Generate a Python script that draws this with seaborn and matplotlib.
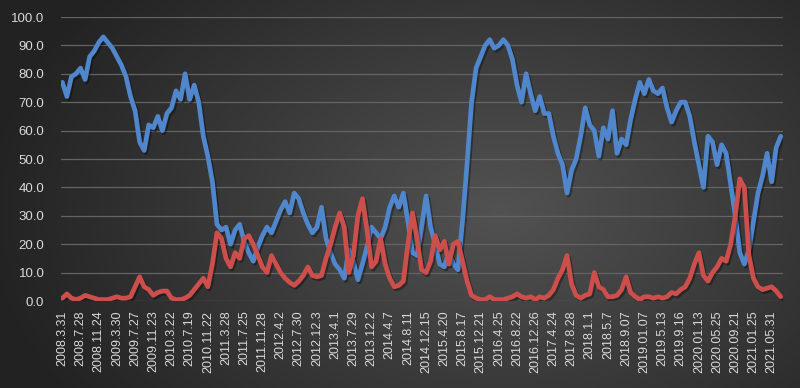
import numpy as np
import pandas as pd
import matplotlib
matplotlib.use("Agg")
import matplotlib.pyplot as plt
import matplotlib.patheffects as pe
import seaborn as sns

# ---------------- data ----------------
tick_labels = ["2008.3.31", "2008.7.28", "2008.11.24", "2009.3.30", "2009.7.27",
               "2009.11.23", "2010.3.22", "2010.7.19", "2010.11.22", "2011.3.28",
               "2011.7.25", "2011.11.28", "2012.4.2", "2012.7.30", "2012.12.3",
               "2013.4.1", "2013.7.29", "2013.12.2", "2014.4.7", "2014.8.11",
               "2014.12.15", "2015.4.20", "2015.8.17", "2015.12.21", "2016.4.25",
               "2016.8.22", "2016.12.26", "2017.4.24", "2017.8.28", "2018.1.1",
               "2018.5.7", "2018.9.07", "2019.01.07", "2019.5.13", "2019.9.16",
               "2020.01.13", "2020.05.25", "2020.09.21", "2021.01.25", "2021.05.31"]

blue_values = [77, 72, 79, 80, 82, 78, 86, 88, 91, 93,
               91, 89, 86, 83, 79, 72, 67, 56, 53, 62,
               61, 65, 60, 66, 68, 74, 71, 80, 71, 76,
               70, 58, 51, 42, 27, 25, 26, 20, 25, 27,
               21, 17, 14, 19, 23, 26, 24, 28, 32, 35,
               31, 38, 36, 31, 27, 24, 26, 33, 22, 17,
               13, 11, 8, 18, 14, 7.5, 13, 19, 26, 24,
               22, 26, 33, 37, 33, 38, 28, 17, 16, 26,
               37, 26, 20, 13, 12, 17, 13, 11, 28, 48,
               70, 82, 86, 90, 92, 89, 90, 92, 90, 85,
               76, 70, 80, 73, 67, 72, 66, 66, 58, 52,
               48, 38, 46, 50, 58, 68, 62, 60, 51, 61,
               57, 67, 52, 57, 55, 64, 71, 77, 73, 78,
               74, 73, 75, 68, 63, 67, 70, 70, 65, 56,
               48, 40, 58, 56, 48, 55, 52, 41, 30, 17,
               13, 18, 28, 38, 44, 52, 42, 54, 58]

red_values = [1, 2.5, 1, 0.5, 1, 2, 1.5, 1, 0.5, 0.5,
              0.5, 1, 1.5, 1, 1, 1.5, 5, 8.5, 5, 4,
              2, 3, 3.5, 3.5, 1, 0.5, 0.5, 1, 2, 4,
              6, 8, 5, 13, 24, 22, 15, 12, 17, 15,
              22, 23, 20, 16, 12, 10, 16, 13, 10, 8,
              6.5, 5.5, 7, 9, 12, 9, 8.5, 9, 15, 20,
              26, 31, 26, 10, 16, 30, 36, 25, 12, 14,
              22, 13, 8, 5, 5.5, 7, 20, 31, 22, 11,
              10, 14, 23, 18, 21, 13, 20, 21, 14, 7,
              2, 1, 0.5, 0.5, 1.5, 0.5, 0.5, 0.5, 1, 1.5,
              2.5, 1.5, 1, 1.5, 0.5, 1.5, 1, 2, 4, 8,
              11, 16, 6, 2, 1, 2, 2.5, 10, 5, 4,
              1.5, 1.5, 2, 4, 8.5, 3, 1.5, 0.5, 1.5, 1.5,
              1, 1.5, 1, 1.5, 3, 2.5, 4, 5, 8, 13,
              17, 9, 7, 10, 12, 15, 14, 20, 30, 43,
              40, 16, 8, 5, 4, 4.5, 5, 3.5, 1.5]

series_names = ["blue", "red"]
colors = ["#4f86cc", "#cc4f4c"]

# ---------------- build table ----------------
n = len(blue_values)
idx = np.arange(n)
df = pd.DataFrame({
    "idx": np.concatenate([idx, idx]),
    "value": np.concatenate([blue_values, red_values]),
    "series": [series_names[0]] * n + [series_names[1]] * n,
})

sns.set_style("dark")
plt.rcParams["font.family"] = ["Liberation Sans", "DejaVu Sans"]

W, H = 800, 388
fig = plt.figure(figsize=(W / 100, H / 100), dpi=100)

# radial gradient background
yy, xx = np.mgrid[0:H, 0:W]
cx, cy = 500, 210
r = np.sqrt(((xx - cx) / 1.0) ** 2 + ((yy - cy) * 1.5) ** 2)
t = np.clip(r / 520, 0, 1)
inner = np.array([0x52, 0x52, 0x52]) / 255
outer = np.array([0x22, 0x22, 0x22]) / 255
img = inner[None, None, :] * (1 - t[..., None]) + outer[None, None, :] * t[..., None]
bg = fig.add_axes([0, 0, 1, 1])
bg.imshow(img, extent=[0, 1, 0, 1], aspect="auto", origin="upper", zorder=0)
bg.set_axis_off()

left, right, top, bottom = 61, 783, 17, 301
ax = fig.add_axes([left / W, 1 - bottom / H, (right - left) / W, (bottom - top) / H])
ax.patch.set_alpha(0)

shadow = [pe.SimpleLineShadow(offset=(1.2, -1.5), shadow_color="black", alpha=0.35), pe.Normal()]
for name, col in zip(series_names, colors):
    sub = df[df["series"] == name]
    sns.lineplot(data=sub, x="idx", y="value", color=col, lw=3.4, ax=ax,
                 legend=False, path_effects=shadow, solid_joinstyle="round")

ax.set_xlim(-0.3, n - 0.5)
ax.set_ylim(0, 100)
ax.set_yticks(np.arange(0, 101, 10))
ax.set_yticklabels([f"{v:.1f}" for v in np.arange(0, 101, 10)])
ax.set_xticks(np.arange(0, 4 * len(tick_labels), 4))
ax.set_xticklabels(tick_labels, rotation=90)
ax.set_xlabel("")
ax.set_ylabel("")
ax.yaxis.grid(True, color="#646464", lw=0.9)
ax.xaxis.grid(False)
for s in ax.spines.values():
    s.set_visible(False)
ax.tick_params(axis="y", length=0, pad=12, labelsize=9.5, labelcolor="#d9d9d9")
ax.tick_params(axis="x", length=0, pad=7, labelsize=9, labelcolor="#d9d9d9")

fig.savefig("out.png", dpi=100)
